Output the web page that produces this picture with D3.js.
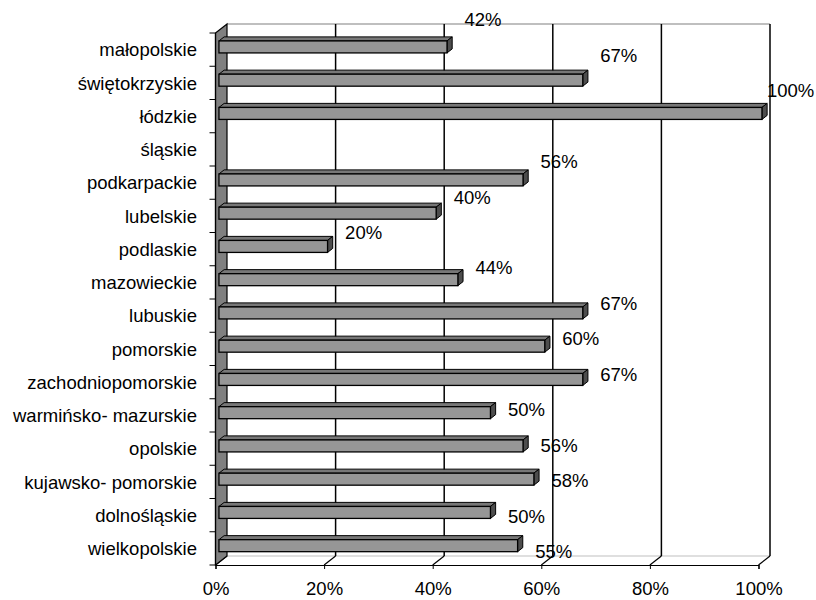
<!DOCTYPE html>
<html>
<head>
<meta charset="utf-8">
<script src="https://cdn.jsdelivr.net/npm/d3@7"></script>
<style>
  body { margin: 0; background: #fff; }
  text { font-family: "Liberation Sans", Arial, sans-serif; fill: #000; }
</style>
</head>
<body>
<div id="chart"></div>
<script>
// Data
const categories = [
    "małopolskie", "świętokrzyskie", "łódzkie", "śląskie", "podkarpackie",
    "lubelskie", "podlaskie", "mazowieckie", "lubuskie", "pomorskie",
    "zachodniopomorskie", "warmińsko- mazurskie", "opolskie",
    "kujawsko- pomorskie", "dolnośląskie", "wielkopolskie"
];
const values = [42, 67, 100, null, 56, 40, 20, 44, 67, 60, 67, 50, 56, 58, 50, 55];
const xTicks = [0, 20, 40, 60, 80, 100];

const width = 816, height = 600;

// front plane of the 3D box
const plotLeft = 215.5, plotRight = 758.5, plotTop = 33, plotBottom = 565;
// depth vector (front -> back)
const depthX = 11.5, depthY = -9;
// bar sits between these depth fractions
const z1 = 0.3, z2 = 0.75;
const barH = 12;
const fontSize = 18.5;

const svg = d3.select("#chart")
    .append("svg")
    .attr("width", width)
    .attr("height", height);

const x = d3.scaleLinear().domain([0, 100]).range([plotLeft, plotRight]);
const y = d3.scaleBand().domain(categories).range([plotTop, plotBottom]);

// back wall + floor gridlines
const grid = svg.append("g");
grid.append("line")
    .attr("x1", plotLeft + depthX).attr("y1", plotTop + depthY)
    .attr("x2", plotRight + depthX).attr("y2", plotTop + depthY)
    .attr("stroke", "#808080").attr("stroke-width", 1.2);
grid.append("line")
    .attr("x1", plotLeft + depthX).attr("y1", plotBottom + depthY)
    .attr("x2", plotRight + depthX).attr("y2", plotBottom + depthY)
    .attr("stroke", "#c0c0c0").attr("stroke-width", 1.2);

xTicks.forEach(t => {
    const xb = x(t) + depthX;
    if (t > 0) {
        grid.append("line")
            .attr("x1", xb).attr("y1", plotTop + depthY)
            .attr("x2", xb).attr("y2", plotBottom + depthY)
            .attr("stroke", "#000").attr("stroke-width", 1.5);
    }
    grid.append("line")
        .attr("x1", xb).attr("y1", plotBottom + depthY)
        .attr("x2", x(t)).attr("y2", plotBottom)
        .attr("stroke", "#000").attr("stroke-width", 1.2);
});

// left side wall
svg.append("path")
    .attr("d", `M${plotLeft},${plotTop} L${plotLeft + depthX},${plotTop + depthY} L${plotLeft + depthX},${plotBottom + depthY} L${plotLeft},${plotBottom} Z`)
    .attr("fill", "#808080")
    .attr("stroke", "#000")
    .attr("stroke-width", 1.2);

// bars
const bars = svg.append("g");
categories.forEach((c, i) => {
    const v = values[i];
    if (v == null) return;
    const cy = y(c) + y.bandwidth() / 2;
    const fx0 = x(0) + depthX * z1, fx1 = x(v) + depthX * z1;
    const fy0 = cy + depthY * z1 - barH / 2, fy1 = fy0 + barH;
    const dx = depthX * (z2 - z1), dy = depthY * (z2 - z1);

    // top face
    bars.append("path")
        .attr("d", `M${fx0},${fy0} L${fx0 + dx},${fy0 + dy} L${fx1 + dx},${fy0 + dy} L${fx1},${fy0} Z`)
        .attr("fill", "#777")
        .attr("stroke", "#000").attr("stroke-width", 1);
    // side face
    bars.append("path")
        .attr("d", `M${fx1},${fy0} L${fx1 + dx},${fy0 + dy} L${fx1 + dx},${fy1 + dy} L${fx1},${fy1} Z`)
        .attr("fill", "#4d4d4d")
        .attr("stroke", "#000").attr("stroke-width", 1);
    // front face
    bars.append("rect")
        .attr("x", fx0).attr("y", fy0)
        .attr("width", fx1 - fx0).attr("height", barH)
        .attr("fill", "#969696")
        .attr("stroke", "#000").attr("stroke-width", 1.3);
});

// left axis
const yAxis = svg.append("g");
yAxis.append("line")
    .attr("x1", plotLeft).attr("y1", plotTop)
    .attr("x2", plotLeft).attr("y2", plotBottom)
    .attr("stroke", "#000").attr("stroke-width", 1.2);
categories.map(c => y(c)).concat([plotBottom]).forEach(ty => {
    yAxis.append("line")
        .attr("x1", plotLeft - 6).attr("y1", ty)
        .attr("x2", plotLeft).attr("y2", ty)
        .attr("stroke", "#000").attr("stroke-width", 1);
});
categories.forEach(c => {
    yAxis.append("text")
        .attr("x", 197)
        .attr("y", y(c) + y.bandwidth() / 2)
        .attr("dy", "0.36em")
        .attr("text-anchor", "end")
        .attr("font-size", fontSize)
        .text(c);
});

// bottom axis
const xAxis = svg.append("g")
    .attr("transform", `translate(0,${plotBottom})`)
    .call(d3.axisBottom(x)
        .tickValues(xTicks)
        .tickSize(4)
        .tickPadding(13)
        .tickFormat(d => d + "%"));
xAxis.select(".domain").attr("stroke", "#000").attr("stroke-width", 1.2);
xAxis.selectAll(".tick line").attr("stroke", "#000");
xAxis.selectAll("text")
    .attr("font-size", fontSize)
    .attr("font-family", "Liberation Sans, Arial, sans-serif")
    .attr("fill", "#000");

// data labels (Excel floats them above-right of the bar end)
const labels = svg.append("g");
categories.forEach((c, i) => {
    const v = values[i];
    if (v == null) return;
    const cy = y(c) + y.bandwidth() / 2;
    let lx = x(v) + 21;
    lx = Math.min(lx, width - 49);
    labels.append("text")
        .attr("x", lx)
        .attr("y", cy - 30 + 2.2 * i)
        .attr("dy", "0.36em")
        .attr("font-size", fontSize)
        .text(v + "%");
});
</script>
</body>
</html>
